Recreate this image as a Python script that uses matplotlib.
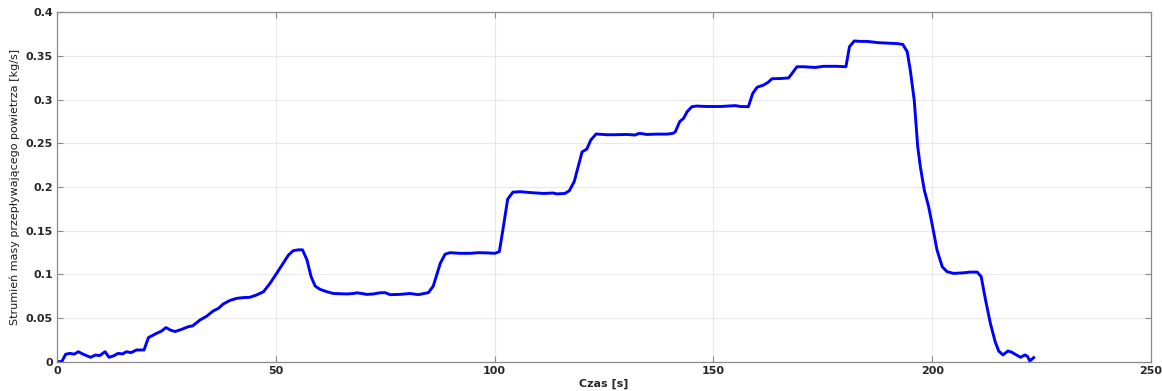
import matplotlib
matplotlib.use("Agg")
import matplotlib.pyplot as plt

# czas [s]
t = [0.0, 1.1, 2.0, 3.0, 3.9, 4.9, 6.0, 7.7, 8.8, 9.8, 11.0, 11.9, 12.9, 14.0, 15.0,
     15.9, 16.9, 18.2, 19.9, 20.9, 22.8, 23.9, 24.9, 26.0, 27.0, 28.5, 30.0, 31.0,
     32.7, 34.2, 35.7, 36.9, 38.0, 39.5, 41.1, 42.6, 44.1, 45.6, 47.2, 48.7, 50.2,
     51.7, 52.9, 54.0, 55.2, 56.1, 57.1, 58.1, 59.0, 60.1, 61.7, 63.2, 64.7, 66.2,
     67.8, 68.5, 69.7, 70.8, 72.3, 73.8, 75.0, 76.1, 78.4, 80.7, 82.6, 84.9, 86.0,
     87.6, 88.7, 89.8, 92.1, 94.4, 96.3, 98.2, 100.1, 101.1, 101.9, 103.0, 104.2,
     105.9, 108.1, 111.2, 113.4, 114.2, 116.1, 117.1, 118.2, 120.0, 121.1, 122.0,
     123.2, 125.7, 127.2, 130.2, 132.1, 133.1, 134.8, 137.1, 139.4, 140.8, 141.3,
     142.3, 143.2, 144.0, 145.1, 146.2, 148.5, 151.6, 155.0, 156.2, 158.0, 159.0,
     160.0, 161.5, 162.6, 163.4, 165.3, 167.2, 168.0, 169.1, 170.6, 173.3, 175.2,
     178.3, 180.3, 181.1, 182.2, 183.6, 185.1, 187.8, 190.1, 192.0, 193.3, 194.3,
     195.0, 195.9, 196.7, 197.3, 198.2, 199.2, 200.1, 201.1, 202.3, 203.4, 204.9,
     207.2, 208.7, 210.3, 211.2, 212.2, 213.3, 214.4, 215.2, 216.2, 217.3, 218.1,
     220.2, 221.2, 221.8, 222.3, 223.2]

# strumien masy [kg/s]
m = [0.0, 0.0, 0.0085, 0.0095, 0.0085, 0.0114, 0.0085, 0.005, 0.0076, 0.007, 0.0114,
     0.005, 0.0066, 0.0095, 0.0089, 0.0114, 0.0103, 0.0134, 0.0134, 0.0275, 0.0325,
     0.035, 0.039, 0.036, 0.0345, 0.037, 0.040, 0.041, 0.0477, 0.052, 0.058, 0.061,
     0.066, 0.070, 0.0725, 0.0733, 0.0737, 0.0763, 0.080, 0.0897, 0.101, 0.1126,
     0.122, 0.127, 0.128, 0.128, 0.117, 0.097, 0.0866, 0.0828, 0.080, 0.078, 0.0778,
     0.0775, 0.078, 0.0788, 0.078, 0.077, 0.0775, 0.0788, 0.079, 0.0767, 0.077,
     0.078, 0.0767, 0.079, 0.0866, 0.1126, 0.123, 0.1247, 0.124, 0.124, 0.1247,
     0.1245, 0.124, 0.126, 0.1507, 0.186, 0.194, 0.1945, 0.1935, 0.1925, 0.193,
     0.192, 0.1925, 0.1957, 0.206, 0.240, 0.2434, 0.2537, 0.2605, 0.2597, 0.2597,
     0.260, 0.2594, 0.2613, 0.260, 0.2604, 0.2604, 0.2613, 0.263, 0.2746, 0.2785,
     0.286, 0.2918, 0.2925, 0.292, 0.292, 0.293, 0.292, 0.2918, 0.307, 0.314,
     0.3166, 0.320, 0.3238, 0.324, 0.3247, 0.330, 0.3375, 0.3375, 0.3367, 0.338,
     0.338, 0.3375, 0.3604, 0.367, 0.3665, 0.3665, 0.365, 0.3645, 0.364, 0.363,
     0.3547, 0.3337, 0.2994, 0.246, 0.223, 0.1965, 0.1773, 0.1545, 0.128, 0.1087,
     0.103, 0.101, 0.1017, 0.1025, 0.1025, 0.0973, 0.0706, 0.0439, 0.0229, 0.0122,
     0.0077, 0.0122, 0.011, 0.005, 0.0077, 0.006, 0.0008, 0.0046]

fig = plt.figure(figsize=(11.62, 3.91), dpi=100)
ax = fig.add_axes([0.049, 0.075, 0.9415, 0.894])

ax.plot(t, m, color="#0000ff", linewidth=2.1)

ax.set_xlim(0, 250)
ax.set_ylim(0, 0.4)
ax.set_xticks([0, 50, 100, 150, 200, 250])
ax.set_yticks([0, 0.05, 0.1, 0.15, 0.2, 0.25, 0.3, 0.35, 0.4])
ax.set_xticklabels(["0", "50", "100", "150", "200", "250"])
ax.set_yticklabels(["0", "0.05", "0.1", "0.15", "0.2", "0.25", "0.3", "0.35", "0.4"])

ax.grid(True, color="#e8e8e8", linewidth=0.8)
ax.set_axisbelow(True)
for s in ax.spines.values():
    s.set_color("#8a8a8a")
    s.set_linewidth(0.9)
ax.tick_params(direction="in", top=True, right=True, length=4, width=0.8,
               color="#8a8a8a", labelsize=8, labelcolor="#262626", pad=3)
for lab in ax.get_xticklabels() + ax.get_yticklabels():
    lab.set_fontweight("bold")

ax.set_xlabel("Czas [s]", fontsize=8, fontweight="bold", color="#262626", labelpad=2)
ax.set_ylabel("Strumień masy przepływającego powietrza [kg/s]", fontsize=8,
              color="#1a1a1a", labelpad=4)

fig.savefig("out.png", dpi=100)
